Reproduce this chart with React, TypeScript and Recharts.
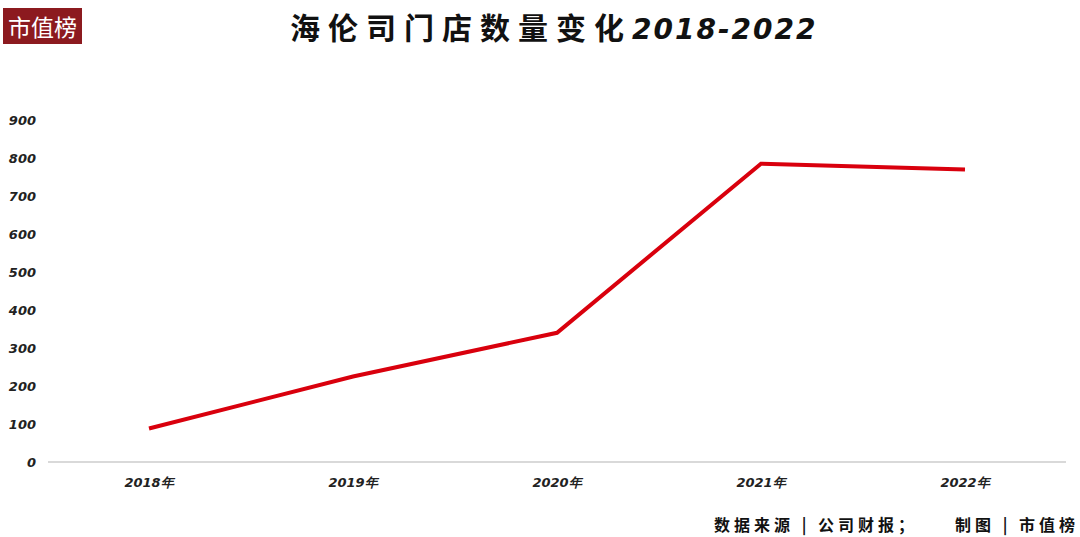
import { LineChart, Line, XAxis, YAxis } from "recharts";

const years = ["2018年", "2019年", "2020年", "2021年", "2022年"];
const stores = [88, 225, 340, 785, 770];
const yTicks = [0, 100, 200, 300, 400, 500, 600, 700, 800, 900];

const data = years.map((y, i) => ({ year: y, stores: stores[i] }));

const tickFont = {
  fontFamily: "'DejaVu Sans', sans-serif",
  fontStyle: "italic",
  fontWeight: 700,
  fontSize: 13,
  fill: "#222",
};

export default function App() {
  return (
    <div
      style={{
        position: "absolute",
        left: 0,
        top: 0,
        width: 1080,
        height: 537,
        background: "#fff",
        fontFamily: "'Noto Sans CJK SC', sans-serif",
      }}
    >
      <div
        style={{
          position: "absolute",
          left: 3,
          top: 8,
          width: 79,
          height: 36,
          background: "#8c1a1f",
          color: "#fff",
          fontSize: 23,
          lineHeight: "36px",
          textAlign: "center",
        }}
      >
        市值榜
      </div>
      <div
        style={{
          position: "absolute",
          left: 290,
          top: 4,
          fontSize: 30,
          fontWeight: 700,
          color: "#111",
          whiteSpace: "nowrap",
        }}
      >
        <span style={{ letterSpacing: 8 }}>海伦司门店数量变化</span>
        <span
          style={{
            fontStyle: "italic",
            fontFamily: "'DejaVu Sans', sans-serif",
            fontSize: 28,
            letterSpacing: 2,
          }}
        >
          2018-2022
        </span>
      </div>
      <LineChart
        width={1080}
        height={537}
        data={data}
        margin={{ top: 120, right: 14, left: 0, bottom: 37 }}
      >
        <XAxis
          dataKey="year"
          padding={{ left: 101, right: 101 }}
          axisLine={{ stroke: "#d9d9d9", strokeWidth: 2 }}
          tickLine={false}
          tickSize={0}
          tickMargin={16}
          height={38}
          tick={tickFont}
        />
        <YAxis
          domain={[0, 900]}
          ticks={yTicks}
          axisLine={false}
          tickLine={false}
          tickSize={0}
          tickMargin={12}
          width={48}
          tick={tickFont}
        />
        <Line
          dataKey="stores"
          stroke="#d9000d"
          strokeWidth={4}
          dot={false}
          activeDot={false}
          isAnimationActive={false}
        />
      </LineChart>
      <div
        style={{
          position: "absolute",
          left: 714,
          top: 512,
          fontSize: 16,
          fontWeight: 700,
          color: "#111",
          whiteSpace: "pre",
          letterSpacing: 4,
        }}
      >
        数据来源 | 公司财报；
      </div>
      <div
        style={{
          position: "absolute",
          left: 955,
          top: 512,
          fontSize: 16,
          fontWeight: 700,
          color: "#111",
          whiteSpace: "pre",
          letterSpacing: 4,
        }}
      >
        制图 | 市值榜
      </div>
    </div>
  );
}
